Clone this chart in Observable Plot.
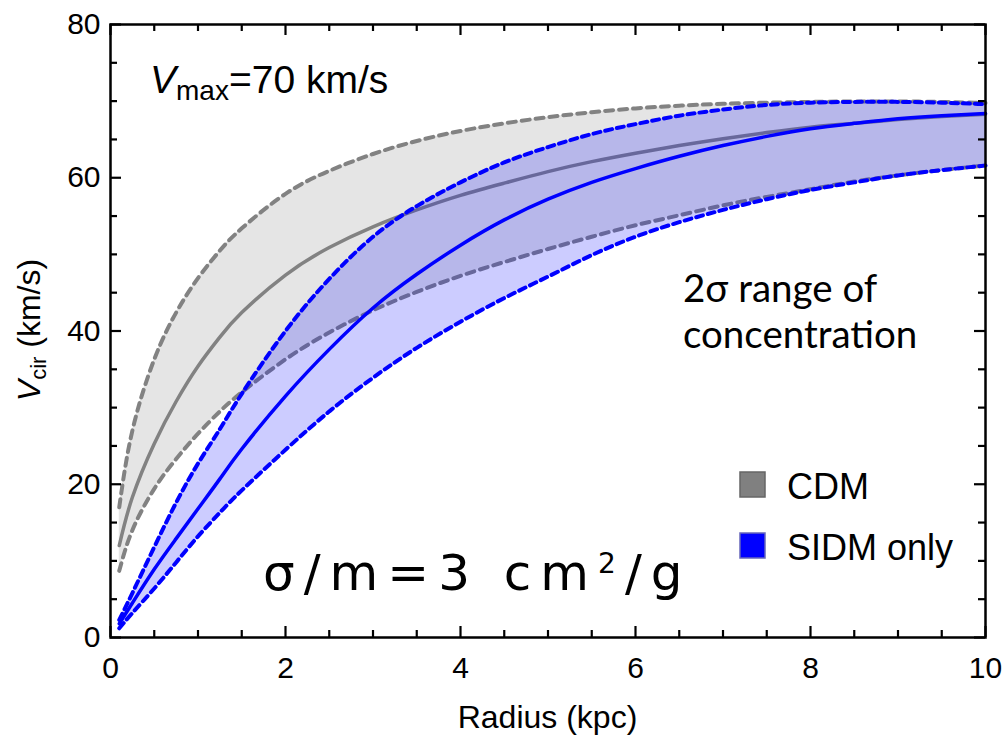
<!DOCTYPE html>
<html><head><meta charset="utf-8">
<script src="https://cdn.jsdelivr.net/npm/d3@7"></script>
<script src="https://cdn.jsdelivr.net/npm/@observablehq/plot@0.6"></script>
<style>body{margin:0;background:#fff;overflow:hidden}</style>
</head><body><div id="chart"></div>
<script>
const radius   = [0.1, 0.25, 0.5, 0.75, 1, 1.25, 1.5, 2, 2.5, 3, 3.5, 4, 4.5, 5, 5.5, 6, 6.5, 7, 7.5, 8, 8.5, 9, 9.5, 10];
const cdmHigh  = [17, 27, 36.3, 42.4, 46.9, 50.5, 53.4, 57.9, 60.9, 63.1, 64.8, 66.1, 67.1, 67.9, 68.55, 69.05, 69.4, 69.65, 69.8, 69.9, 69.95, 69.95, 69.9, 69.75];
const cdmMean  = [12, 18.3, 25.3, 30.8, 35.4, 39.2, 42.4, 47.3, 50.9, 53.6, 55.8, 57.7, 59.3, 60.8, 62.1, 63.2, 64.2, 65.1, 65.9, 66.6, 67.1, 67.6, 68, 68.3];
const cdmLow   = [8.7, 14, 19.4, 23.3, 26.6, 29.5, 32, 36.3, 39.8, 42.7, 45.1, 47.2, 49.0, 50.7, 52.3, 53.8, 55.1, 56.4, 57.5, 58.5, 59.5, 60.3, 61.0, 61.6];
const sidmHigh = [2.3, 5.8, 11.8, 17.6, 22.7, 27.2, 31.8, 40, 46.8, 52.3, 56.3, 59.4, 62.0, 64.0, 65.7, 67.0, 68.1, 68.9, 69.5, 69.8, 69.9, 69.9, 69.8, 69.6];
const sidmMean = [1.8, 4.5, 8.9, 12.9, 16.8, 20.7, 24.6, 31.5, 37.6, 43.0, 47.4, 51.2, 54.5, 57.2, 59.4, 61.2, 62.8, 64.2, 65.4, 66.4, 67.1, 67.7, 68.1, 68.4];
const sidmLow  = [1.2, 3.2, 6.4, 9.8, 13.2, 16.3, 19.2, 24.5, 29.5, 33.9, 37.8, 41.2, 44.3, 47.1, 49.9, 52.3, 54.2, 55.8, 57.2, 58.4, 59.4, 60.3, 61.0, 61.6];

const xMajor = [0, 2, 4, 6, 8, 10];
const xMinor = [0.5, 1, 1.5, 2.5, 3, 3.5, 4.5, 5, 5.5, 6.5, 7, 7.5, 8.5, 9, 9.5];
const yMajor = [0, 20, 40, 60, 80];
const yMinor = [5, 10, 15, 25, 30, 35, 45, 50, 55, 65, 70, 75];

const legendLabels = ["CDM", "SIDM only"];
const legendColors = ["#808080", "#0000ff"];

const rows = radius.map((r, i) => ({
  r, cdmHigh: cdmHigh[i], cdmMean: cdmMean[i], cdmLow: cdmLow[i],
  sidmHigh: sidmHigh[i], sidmMean: sidmMean[i], sidmLow: sidmLow[i]
}));

const curve = "natural";
const gray = "#828282";
const blue = "#0000ff";
const W = 1006, H = 736, ML = 110, MR = 21, MT = 24, MB = 99;
const FW = W - ML - MR, FH = H - MT - MB;
const XD = [0, 10], YD = [0, 80];
// tick lengths expressed in data units (11 px major, 7 px minor)
const xMajLen = (YD[1] - YD[0]) * 11 / FH, xMinLen = (YD[1] - YD[0]) * 7 / FH;
const yMajLen = (XD[1] - XD[0]) * 11 / FW, yMinLen = (XD[1] - XD[0]) * 7 / FW;
const tickStyle = {stroke: "#000", strokeWidth: 2.2, strokeLinecap: "butt"};

const plot = Plot.plot({
  width: W, height: H,
  marginLeft: ML, marginRight: MR, marginTop: MT, marginBottom: MB,
  x: {domain: XD},
  y: {domain: YD},
  style: {fontFamily: "'Liberation Sans', Arial, sans-serif", color: "#000", background: "#fff", overflow: "visible"},
  marks: [
    Plot.areaY(rows, {x: "r", y1: "cdmLow", y2: "cdmHigh", fill: "#e5e5e5", curve}),
    Plot.lineY(rows, {x: "r", y: "cdmHigh", stroke: gray, strokeWidth: 4, strokeDasharray: "8,6", curve}),
    Plot.lineY(rows, {x: "r", y: "cdmLow", stroke: gray, strokeWidth: 4, strokeDasharray: "8,6", curve}),
    Plot.lineY(rows, {x: "r", y: "cdmMean", stroke: gray, strokeWidth: 3.5, curve}),
    Plot.areaY(rows, {x: "r", y1: "sidmLow", y2: "sidmHigh", fill: blue, fillOpacity: 0.2, curve}),
    Plot.lineY(rows, {x: "r", y: "sidmHigh", stroke: blue, strokeWidth: 4, strokeDasharray: "7,5", curve}),
    Plot.lineY(rows, {x: "r", y: "sidmLow", stroke: blue, strokeWidth: 4, strokeDasharray: "7,5", curve}),
    Plot.lineY(rows, {x: "r", y: "sidmMean", stroke: blue, strokeWidth: 3.5, curve}),
    Plot.axisX({ticks: xMajor, tickSize: 0, tickPadding: 19, fontSize: 30, label: null}),
    Plot.axisY({ticks: yMajor, tickSize: 0, tickPadding: 10, fontSize: 30, label: null}),
    // inward ticks (data-space rules)
    Plot.ruleX(xMajor, {x: d => d, y1: YD[0], y2: YD[0] + xMajLen, ...tickStyle}),
    Plot.ruleX(xMinor, {x: d => d, y1: YD[0], y2: YD[0] + xMinLen, ...tickStyle}),
    Plot.ruleX(xMajor, {x: d => d, y1: YD[1] - xMajLen, y2: YD[1], ...tickStyle}),
    Plot.ruleX(xMinor, {x: d => d, y1: YD[1] - xMinLen, y2: YD[1], ...tickStyle}),
    Plot.ruleY(yMajor, {y: d => d, x1: XD[0], x2: XD[0] + yMajLen, ...tickStyle}),
    Plot.ruleY(yMinor, {y: d => d, x1: XD[0], x2: XD[0] + yMinLen, ...tickStyle}),
    Plot.ruleY(yMajor, {y: d => d, x1: XD[1] - yMajLen, x2: XD[1], ...tickStyle}),
    Plot.ruleY(yMinor, {y: d => d, x1: XD[1] - yMinLen, x2: XD[1], ...tickStyle}),
    Plot.frame({stroke: "#000", strokeWidth: 2.5})
  ]
});

document.getElementById("chart").appendChild(plot);
const svg = d3.select(plot);
const sans = "'Liberation Sans', Arial, sans-serif";

// V_max annotation
const vmax = svg.append("text").attr("x", 150).attr("y", 93).attr("text-anchor", "start")
  .attr("font-family", sans).attr("font-size", 39).attr("fill", "#000");
vmax.append("tspan").attr("font-style", "italic").text("V");
vmax.append("tspan").attr("font-size", 28).attr("dy", 7).text("max");
vmax.append("tspan").attr("dy", -7).text("=70 km/s");

// y axis label
const ylab = svg.append("text").attr("transform", "translate(40,330) rotate(-90)")
  .attr("text-anchor", "middle").attr("font-family", sans).attr("font-size", 32).attr("fill", "#000");
ylab.append("tspan").attr("font-style", "italic").text("V");
ylab.append("tspan").attr("font-size", 22).attr("dy", 6).text("cir");
ylab.append("tspan").attr("dy", -6).text(" (km/s)");

// x axis label
svg.append("text").attr("x", 547.5).attr("y", 728).attr("text-anchor", "middle")
  .attr("font-family", sans).attr("font-size", 32).attr("fill", "#000").text("Radius (kpc)");

// 2σ range text
const rng = svg.append("text").attr("font-family", "Lato, 'Open Sans', sans-serif").attr("text-anchor", "start")
  .attr("font-size", 38.5).attr("fill", "#000");
rng.append("tspan").attr("x", 683).attr("y", 302).text("2σ range of");
rng.append("tspan").attr("x", 683).attr("y", 348).text("concentration");

// σ/m text
const sm = svg.append("text").attr("x", 263).attr("y", 590).attr("text-anchor", "start")
  .attr("font-family", "'DejaVu Sans', sans-serif").attr("font-size", 50)
  .attr("letter-spacing", 9).attr("fill", "#000");
sm.append("tspan").text("σ/m=3 cm");
sm.append("tspan").attr("font-size", 28).attr("dy", -17).text("2");
sm.append("tspan").attr("dy", 17).text("/g");

// legend
const legY = [472, 533];
legendLabels.forEach((lab, i) => {
  svg.append("rect").attr("x", 740).attr("y", legY[i]).attr("width", 25).attr("height", 25)
    .attr("fill", legendColors[i]).attr("stroke", i === 0 ? "#666" : "#6666bb").attr("stroke-width", 1.5);
  svg.append("text").attr("x", 787).attr("y", legY[i] + 27).attr("text-anchor", "start").attr("font-family", sans)
    .attr("font-size", 36).attr("fill", "#000").text(lab);
});
</script>
</body></html>
